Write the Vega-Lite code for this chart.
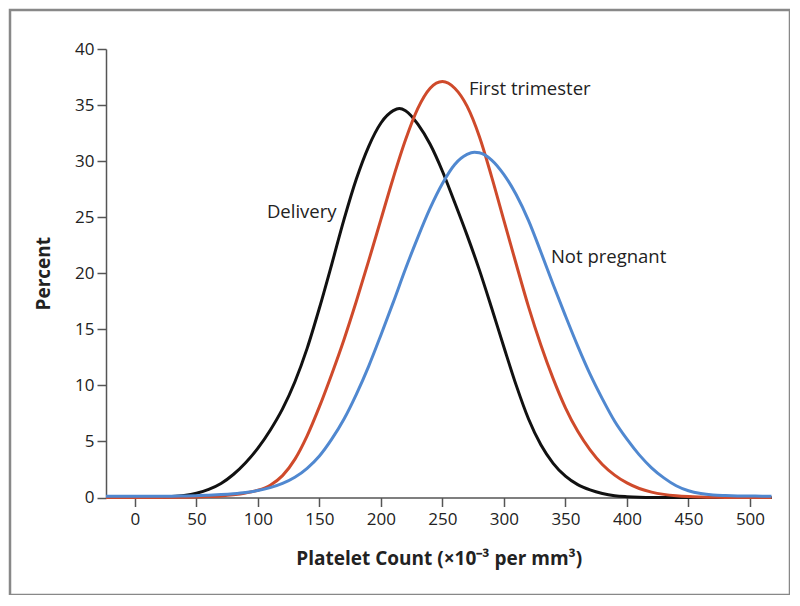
{
  "$schema": "https://vega.github.io/schema/vega-lite/v6.json",
  "autosize": "none",
  "width": 780,
  "height": 585,
  "padding": {"left": 10, "top": 10, "right": 0, "bottom": 0},
  "background": "white",
  "config": {
    "view": {"stroke": "#888888", "strokeWidth": 2.5},
    "font": "Open Sans",
    "axis": {
      "grid": false,
      "domainColor": "#555555",
      "domainWidth": 1.5,
      "tickColor": "#555555",
      "tickWidth": 1.5,
      "tickSize": 9,
      "labelFont": "Open Sans",
      "labelFontSize": 17,
      "labelColor": "#222222",
      "titleFont": "Open Sans",
      "titleFontSize": 19,
      "titleFontWeight": "bold",
      "titleColor": "#222222"
    }
  },
  "datasets": {
    "curves": [
      {"group": "Delivery", "x": -23.5, "percent": 0},
      {"group": "Delivery", "x": -10, "percent": 0},
      {"group": "Delivery", "x": 0, "percent": 0},
      {"group": "Delivery", "x": 10, "percent": 0.01},
      {"group": "Delivery", "x": 20, "percent": 0.03},
      {"group": "Delivery", "x": 30, "percent": 0.08},
      {"group": "Delivery", "x": 40, "percent": 0.18},
      {"group": "Delivery", "x": 50, "percent": 0.38},
      {"group": "Delivery", "x": 60, "percent": 0.72},
      {"group": "Delivery", "x": 70, "percent": 1.25},
      {"group": "Delivery", "x": 80, "percent": 2.05},
      {"group": "Delivery", "x": 90, "percent": 3.1},
      {"group": "Delivery", "x": 100, "percent": 4.4},
      {"group": "Delivery", "x": 110, "percent": 6.0},
      {"group": "Delivery", "x": 120, "percent": 7.9},
      {"group": "Delivery", "x": 130, "percent": 10.3},
      {"group": "Delivery", "x": 140, "percent": 13.3},
      {"group": "Delivery", "x": 150, "percent": 16.9},
      {"group": "Delivery", "x": 160, "percent": 20.8},
      {"group": "Delivery", "x": 170, "percent": 24.8},
      {"group": "Delivery", "x": 180, "percent": 28.4},
      {"group": "Delivery", "x": 190, "percent": 31.3},
      {"group": "Delivery", "x": 200, "percent": 33.4},
      {"group": "Delivery", "x": 210, "percent": 34.5},
      {"group": "Delivery", "x": 215, "percent": 34.7},
      {"group": "Delivery", "x": 220, "percent": 34.5},
      {"group": "Delivery", "x": 230, "percent": 33.3},
      {"group": "Delivery", "x": 240, "percent": 31.5},
      {"group": "Delivery", "x": 250, "percent": 29.1},
      {"group": "Delivery", "x": 260, "percent": 26.3},
      {"group": "Delivery", "x": 270, "percent": 23.4},
      {"group": "Delivery", "x": 280, "percent": 20.3},
      {"group": "Delivery", "x": 290, "percent": 16.9},
      {"group": "Delivery", "x": 300, "percent": 13.4},
      {"group": "Delivery", "x": 310, "percent": 10.0},
      {"group": "Delivery", "x": 320, "percent": 7.0},
      {"group": "Delivery", "x": 330, "percent": 4.7},
      {"group": "Delivery", "x": 340, "percent": 3.05},
      {"group": "Delivery", "x": 350, "percent": 1.9},
      {"group": "Delivery", "x": 360, "percent": 1.15},
      {"group": "Delivery", "x": 370, "percent": 0.68},
      {"group": "Delivery", "x": 380, "percent": 0.36},
      {"group": "Delivery", "x": 390, "percent": 0.16},
      {"group": "Delivery", "x": 400, "percent": 0.07},
      {"group": "Delivery", "x": 410, "percent": 0.02},
      {"group": "Delivery", "x": 420, "percent": 0},
      {"group": "Delivery", "x": 450, "percent": 0},
      {"group": "Delivery", "x": 480, "percent": 0},
      {"group": "Delivery", "x": 517.5, "percent": 0},

      {"group": "First trimester", "x": -23.5, "percent": 0},
      {"group": "First trimester", "x": 0, "percent": 0},
      {"group": "First trimester", "x": 20, "percent": 0},
      {"group": "First trimester", "x": 40, "percent": 0.02},
      {"group": "First trimester", "x": 50, "percent": 0.04},
      {"group": "First trimester", "x": 60, "percent": 0.08},
      {"group": "First trimester", "x": 70, "percent": 0.14},
      {"group": "First trimester", "x": 80, "percent": 0.24},
      {"group": "First trimester", "x": 90, "percent": 0.4},
      {"group": "First trimester", "x": 100, "percent": 0.65},
      {"group": "First trimester", "x": 110, "percent": 1.1},
      {"group": "First trimester", "x": 120, "percent": 1.95},
      {"group": "First trimester", "x": 130, "percent": 3.4},
      {"group": "First trimester", "x": 140, "percent": 5.5},
      {"group": "First trimester", "x": 150, "percent": 8.1},
      {"group": "First trimester", "x": 160, "percent": 11.0},
      {"group": "First trimester", "x": 170, "percent": 14.1},
      {"group": "First trimester", "x": 180, "percent": 17.5},
      {"group": "First trimester", "x": 190, "percent": 21.1},
      {"group": "First trimester", "x": 200, "percent": 24.8},
      {"group": "First trimester", "x": 210, "percent": 28.5},
      {"group": "First trimester", "x": 220, "percent": 31.9},
      {"group": "First trimester", "x": 230, "percent": 34.7},
      {"group": "First trimester", "x": 240, "percent": 36.5},
      {"group": "First trimester", "x": 250, "percent": 37.1},
      {"group": "First trimester", "x": 260, "percent": 36.5},
      {"group": "First trimester", "x": 270, "percent": 34.9},
      {"group": "First trimester", "x": 280, "percent": 32.2},
      {"group": "First trimester", "x": 290, "percent": 28.6},
      {"group": "First trimester", "x": 300, "percent": 24.7},
      {"group": "First trimester", "x": 310, "percent": 20.8},
      {"group": "First trimester", "x": 320, "percent": 17.0},
      {"group": "First trimester", "x": 330, "percent": 13.6},
      {"group": "First trimester", "x": 340, "percent": 10.6},
      {"group": "First trimester", "x": 350, "percent": 8.0},
      {"group": "First trimester", "x": 360, "percent": 5.9},
      {"group": "First trimester", "x": 370, "percent": 4.25},
      {"group": "First trimester", "x": 380, "percent": 2.95},
      {"group": "First trimester", "x": 390, "percent": 2.0},
      {"group": "First trimester", "x": 400, "percent": 1.3},
      {"group": "First trimester", "x": 410, "percent": 0.8},
      {"group": "First trimester", "x": 420, "percent": 0.48},
      {"group": "First trimester", "x": 430, "percent": 0.28},
      {"group": "First trimester", "x": 440, "percent": 0.16},
      {"group": "First trimester", "x": 450, "percent": 0.09},
      {"group": "First trimester", "x": 460, "percent": 0.05},
      {"group": "First trimester", "x": 470, "percent": 0.02},
      {"group": "First trimester", "x": 480, "percent": 0},
      {"group": "First trimester", "x": 517.5, "percent": 0},

      {"group": "Not pregnant", "x": -23.5, "percent": 0.12},
      {"group": "Not pregnant", "x": 0, "percent": 0.12},
      {"group": "Not pregnant", "x": 20, "percent": 0.12},
      {"group": "Not pregnant", "x": 30, "percent": 0.12},
      {"group": "Not pregnant", "x": 40, "percent": 0.13},
      {"group": "Not pregnant", "x": 50, "percent": 0.15},
      {"group": "Not pregnant", "x": 60, "percent": 0.2},
      {"group": "Not pregnant", "x": 70, "percent": 0.26},
      {"group": "Not pregnant", "x": 80, "percent": 0.34},
      {"group": "Not pregnant", "x": 90, "percent": 0.45},
      {"group": "Not pregnant", "x": 100, "percent": 0.62},
      {"group": "Not pregnant", "x": 110, "percent": 0.88},
      {"group": "Not pregnant", "x": 120, "percent": 1.25},
      {"group": "Not pregnant", "x": 130, "percent": 1.8},
      {"group": "Not pregnant", "x": 140, "percent": 2.6},
      {"group": "Not pregnant", "x": 150, "percent": 3.7},
      {"group": "Not pregnant", "x": 160, "percent": 5.2},
      {"group": "Not pregnant", "x": 170, "percent": 7.0},
      {"group": "Not pregnant", "x": 180, "percent": 9.2},
      {"group": "Not pregnant", "x": 190, "percent": 11.7},
      {"group": "Not pregnant", "x": 200, "percent": 14.5},
      {"group": "Not pregnant", "x": 210, "percent": 17.4},
      {"group": "Not pregnant", "x": 220, "percent": 20.4},
      {"group": "Not pregnant", "x": 230, "percent": 23.2},
      {"group": "Not pregnant", "x": 240, "percent": 25.8},
      {"group": "Not pregnant", "x": 250, "percent": 28.0},
      {"group": "Not pregnant", "x": 260, "percent": 29.7},
      {"group": "Not pregnant", "x": 270, "percent": 30.6},
      {"group": "Not pregnant", "x": 276, "percent": 30.8},
      {"group": "Not pregnant", "x": 280, "percent": 30.75},
      {"group": "Not pregnant", "x": 290, "percent": 30.1},
      {"group": "Not pregnant", "x": 300, "percent": 28.8},
      {"group": "Not pregnant", "x": 310, "percent": 27.0},
      {"group": "Not pregnant", "x": 320, "percent": 24.7},
      {"group": "Not pregnant", "x": 330, "percent": 21.9},
      {"group": "Not pregnant", "x": 340, "percent": 19.0},
      {"group": "Not pregnant", "x": 350, "percent": 16.2},
      {"group": "Not pregnant", "x": 360, "percent": 13.5},
      {"group": "Not pregnant", "x": 370, "percent": 11.0},
      {"group": "Not pregnant", "x": 380, "percent": 8.8},
      {"group": "Not pregnant", "x": 390, "percent": 6.8},
      {"group": "Not pregnant", "x": 400, "percent": 5.2},
      {"group": "Not pregnant", "x": 410, "percent": 3.8},
      {"group": "Not pregnant", "x": 420, "percent": 2.65},
      {"group": "Not pregnant", "x": 430, "percent": 1.75},
      {"group": "Not pregnant", "x": 440, "percent": 1.05},
      {"group": "Not pregnant", "x": 450, "percent": 0.6},
      {"group": "Not pregnant", "x": 460, "percent": 0.35},
      {"group": "Not pregnant", "x": 470, "percent": 0.22},
      {"group": "Not pregnant", "x": 480, "percent": 0.17},
      {"group": "Not pregnant", "x": 490, "percent": 0.14},
      {"group": "Not pregnant", "x": 500, "percent": 0.13},
      {"group": "Not pregnant", "x": 510, "percent": 0.12},
      {"group": "Not pregnant", "x": 517.5, "percent": 0.12}
    ],
    "labels": [
      {"label": "Delivery", "x": 107.3, "percent": 25.5},
      {"label": "First trimester", "x": 271.5, "percent": 36.4},
      {"label": "Not pregnant", "x": 338.2, "percent": 21.45}
    ]
  },
  "layer": [
    {
      "data": {"name": "curves"},
      "mark": {"type": "line", "strokeWidth": 3, "interpolate": "monotone"},
      "encoding": {
        "x": {
          "field": "x", "type": "quantitative",
          "scale": {"domain": [-23.5, 517.5], "range": [96, 761.5], "nice": false, "zero": false},
          "axis": {
            "values": [0, 50, 100, 150, 200, 250, 300, 350, 400, 450, 500],
            "offset": -97.5,
            "labelPadding": 5,
            "titlePadding": 22,
            "title": "Platelet Count (×10⁻³ per mm³)"
          }
        },
        "y": {
          "field": "percent", "type": "quantitative",
          "scale": {"domain": [0, 40], "range": [487.5, 39], "nice": false},
          "axis": {
            "values": [0, 5, 10, 15, 20, 25, 30, 35, 40],
            "offset": -96,
            "labelPadding": 3,
            "titlePadding": 21,
            "title": "Percent"
          }
        },
        "color": {
          "field": "group", "type": "nominal",
          "scale": {"domain": ["Delivery", "First trimester", "Not pregnant"], "range": ["#111111", "#cf4a2b", "#5088d0"]},
          "legend": null
        },
        "order": {"field": "x", "type": "quantitative"}
      }
    },
    {
      "data": {"name": "labels"},
      "mark": {"type": "text", "align": "left", "baseline": "middle", "fontSize": 18.5, "font": "Open Sans", "color": "#222222"},
      "encoding": {
        "x": {"field": "x", "type": "quantitative"},
        "y": {"field": "percent", "type": "quantitative"},
        "text": {"field": "label"}
      }
    }
  ]
}
